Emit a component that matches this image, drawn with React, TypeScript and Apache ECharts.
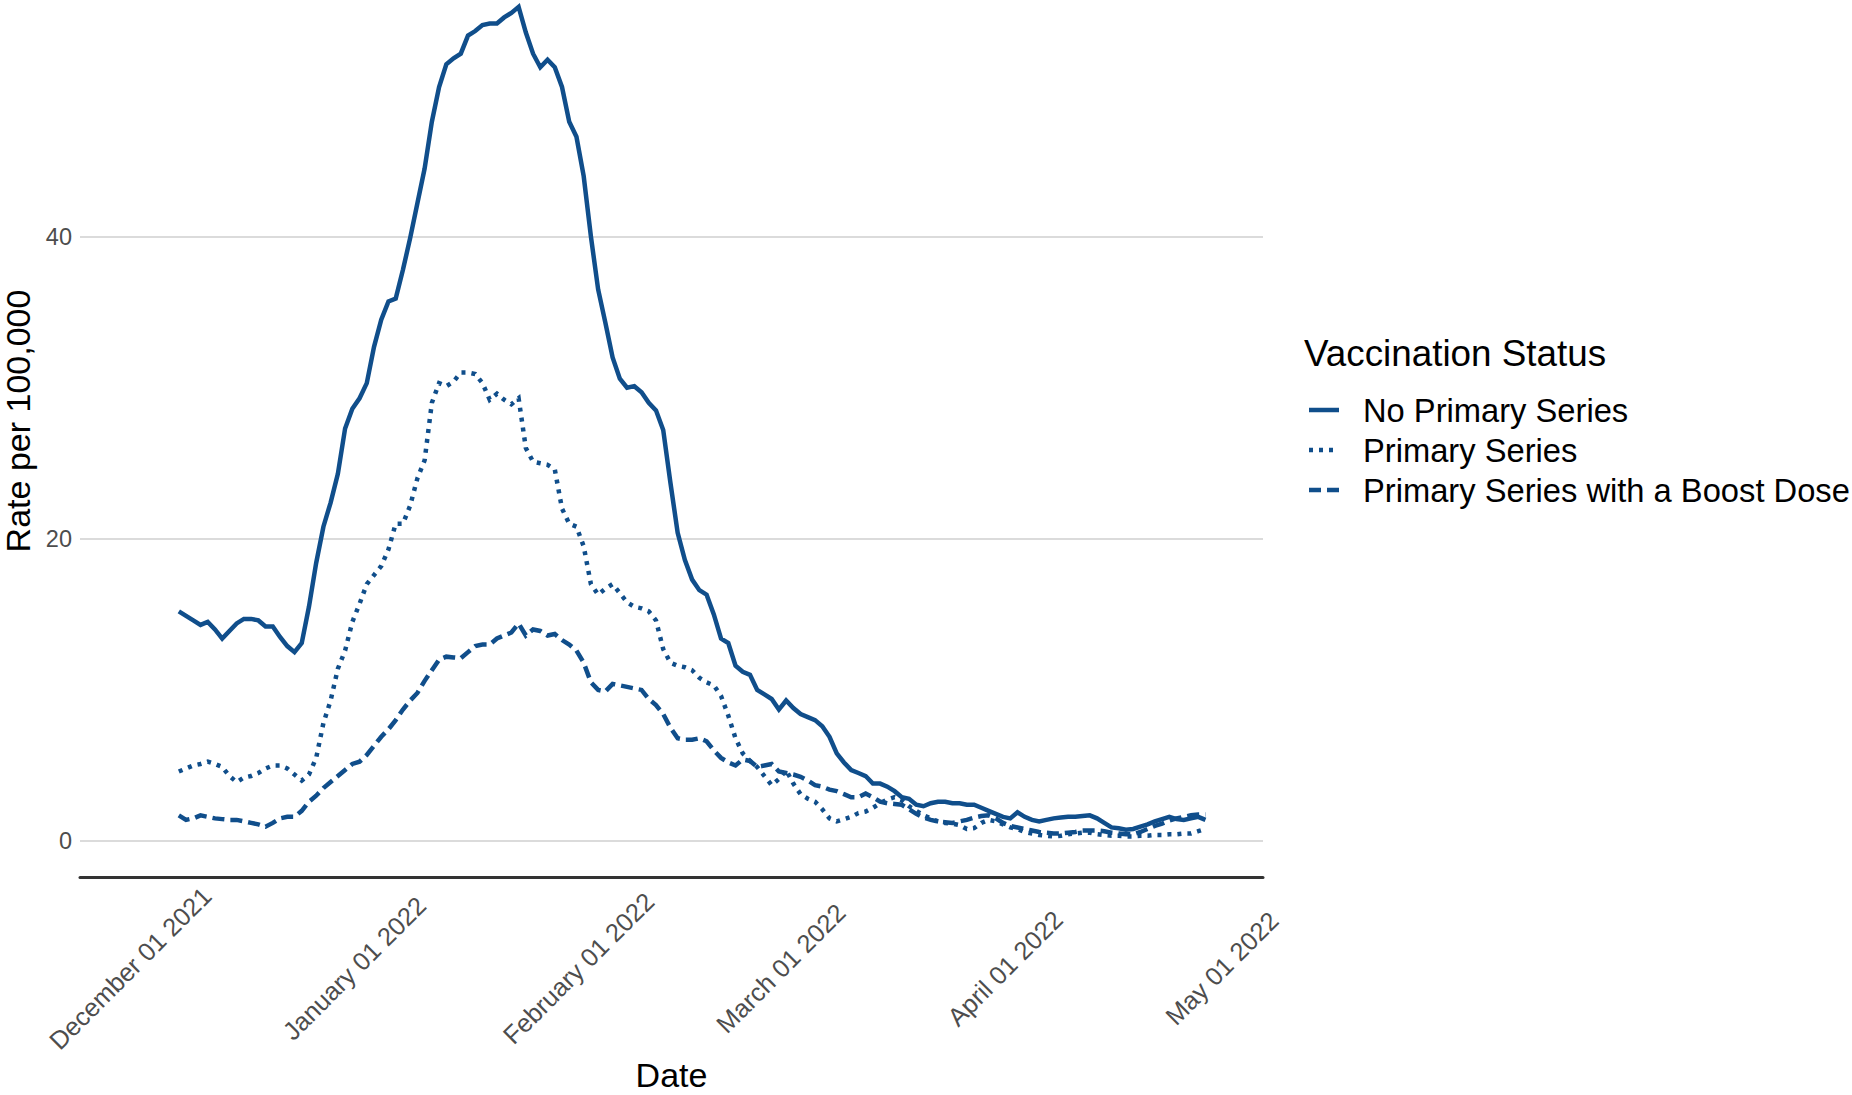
import React, { useEffect, useRef } from "react";
import * as echarts from "echarts";

// ---- data (one value per day, first day below) ----
const firstDate = "2021-12-09";

const noPrimarySeries = [
  15.2, 14.9, 14.6, 14.3, 14.5, 14.0, 13.4, 13.9, 14.4, 14.7, 14.7, 14.6, 14.2, 14.2, 13.5, 12.9, 12.5,
  13.1, 15.5, 18.4, 20.8, 22.4, 24.3, 27.3, 28.6, 29.3, 30.3, 32.7, 34.5, 35.7, 35.9, 37.8, 39.9, 42.2,
  44.5, 47.6, 49.9, 51.4, 51.8, 52.1, 53.3, 53.6, 54.0, 54.1, 54.1, 54.5, 54.8, 55.2, 53.5, 52.1, 51.2,
  51.7, 51.2, 49.9, 47.6, 46.6, 44.0, 40.0, 36.5, 34.3, 32.0, 30.6, 30.0, 30.1, 29.7, 29.0, 28.5, 27.2,
  23.7, 20.4, 18.6, 17.3, 16.6, 16.3, 15.0, 13.4, 13.1, 11.6, 11.2, 11.0, 10.0, 9.7, 9.4, 8.7, 9.3, 8.8,
  8.4, 8.2, 8.0, 7.6, 6.9, 5.8, 5.2, 4.7, 4.5, 4.3, 3.8, 3.8, 3.6, 3.3, 2.9, 2.8, 2.4, 2.3, 2.5, 2.6,
  2.6, 2.5, 2.5, 2.4, 2.4, 2.2, 2.0, 1.8, 1.6, 1.5, 1.9, 1.6, 1.4, 1.3, 1.4, 1.5, 1.55, 1.6, 1.6, 1.65,
  1.7, 1.5, 1.2, 0.9, 0.85, 0.75, 0.8, 0.95, 1.1, 1.3, 1.45, 1.6, 1.45, 1.4, 1.5, 1.6, 1.4,
];

const primarySeries = [
  4.6, 4.8, 5.0, 5.1, 5.25, 5.1, 4.9, 4.3, 3.9, 4.2, 4.3, 4.5, 4.8, 5.0, 5.0, 4.8, 4.4, 4.0, 4.4, 5.5,
  7.8, 9.3, 11.4, 12.6, 14.5, 15.7, 17.0, 17.6, 18.2, 19.3, 21.0, 21.0, 22.2, 24.0, 25.2, 29.0, 30.3,
  30.1, 30.4, 31.0, 31.0, 30.9, 30.3, 29.2, 29.6, 29.2, 28.9, 29.3, 26.0, 25.1, 25.0, 24.9, 24.6, 22.0,
  21.0, 20.8, 19.5, 17.0, 16.3, 16.7, 17.0, 16.4, 15.8, 15.5, 15.4, 15.2, 14.6, 12.7, 11.8, 11.6, 11.5,
  11.3, 10.8, 10.5, 10.3, 9.6, 8.3, 6.8, 5.8, 5.3, 4.9, 4.3, 3.7, 4.1, 4.7, 3.8, 3.1, 2.8, 2.6, 2.1,
  1.5, 1.3, 1.45, 1.6, 1.85, 1.95, 2.2, 2.5, 2.75, 2.9, 2.7, 2.3, 2.0, 1.7, 1.5, 1.3, 1.2, 1.15, 1.05,
  0.8, 0.85, 1.2, 1.4, 1.3, 1.1, 0.9, 0.8, 0.6, 0.5, 0.4, 0.35, 0.3, 0.35, 0.45, 0.5, 0.55, 0.55, 0.45,
  0.4, 0.35, 0.35, 0.3, 0.3, 0.35, 0.35, 0.4, 0.4, 0.45, 0.45, 0.5, 0.5, 0.65, 0.8,
];

const boostSeries = [
  1.7, 1.4, 1.5, 1.7, 1.6, 1.5, 1.45, 1.4, 1.4, 1.3, 1.2, 1.1, 0.95, 1.2, 1.5, 1.6, 1.6, 2.0, 2.6, 3.0,
  3.5, 3.9, 4.3, 4.7, 5.1, 5.25, 5.7, 6.3, 6.9, 7.4, 8.0, 8.7, 9.3, 9.8, 10.6, 11.3, 12.0, 12.2, 12.15,
  12.1, 12.5, 12.9, 13.0, 13.0, 13.4, 13.6, 13.8, 14.4, 13.6, 14.0, 13.9, 13.6, 13.7, 13.3, 13.0, 12.6,
  11.8, 10.5, 10.0, 9.9, 10.4, 10.3, 10.2, 10.1, 10.0, 9.4, 9.0, 8.4, 7.5, 6.8, 6.7, 6.7, 6.8, 6.6, 6.0,
  5.5, 5.2, 5.0, 5.4, 5.3, 4.9, 5.0, 5.1, 4.6, 4.5, 4.4, 4.25, 4.0, 3.7, 3.6, 3.4, 3.3, 3.1, 2.9, 2.9,
  3.15, 2.9, 2.6, 2.5, 2.45, 2.4, 2.1, 1.8, 1.55, 1.4, 1.3, 1.25, 1.2, 1.3, 1.4, 1.55, 1.65, 1.7, 1.5,
  1.2, 1.0, 0.9, 0.8, 0.7, 0.6, 0.55, 0.5, 0.5, 0.55, 0.6, 0.7, 0.7, 0.7, 0.65, 0.55, 0.5, 0.45, 0.45,
  0.6, 0.8, 1.0, 1.15, 1.35, 1.5, 1.6, 1.7, 1.75, 1.75,
];

const seriesNames = ["No Primary Series", "Primary Series", "Primary Series with a Boost Dose"];
const legendTitle = "Vaccination Status";

const xTickDates = ["2021-12-01", "2022-01-01", "2022-02-01", "2022-03-01", "2022-04-01", "2022-05-01"];
const xTickLabels = [
  "December 01 2021",
  "January 01 2022",
  "February 01 2022",
  "March 01 2022",
  "April 01 2022",
  "May 01 2022",
];
const yTicks = [0, 20, 40];

// ---- helpers / styling ----
const DAY = 86400000;
const HOUR = 3600000;
const utc = (s: string) => Date.parse(s + "T00:00:00Z");
const FONT = '"Liberation Sans", Arial, sans-serif';
const LINE_COLOR = "#104E8B";
const LINE_WIDTH = 4.5;
const DASHES: any[] = ["solid", [4, 6], [12, 6]];

const seriesValues = [noPrimarySeries, primarySeries, boostSeries];

export default function App() {
  const ref = useRef<HTMLDivElement>(null);

  useEffect(() => {
    if (!ref.current) return;
    const chart = echarts.init(ref.current, undefined, { renderer: "svg" });

    const start = utc(firstDate);
    const tickTimes = xTickDates.map(utc);

    const series = seriesValues.map((vals, k) => ({
      name: seriesNames[k],
      type: "line",
      data: vals.map((v, i) => [start + i * DAY, v]),
      showSymbol: false,
      symbol: "none",
      clip: true,
      z: 3,
      lineStyle: { color: LINE_COLOR, width: LINE_WIDTH, type: DASHES[k], cap: "butt", join: "miter" },
      itemStyle: { color: LINE_COLOR },
      emphasis: { disabled: true },
    }));

    const legendY = [410, 450, 490];
    const graphic: any[] = [
      {
        type: "text",
        x: 1304,
        y: 353,
        style: {
          text: legendTitle,
          fontSize: 36.8,
          fontFamily: FONT,
          fill: "#000000",
          align: "left",
          verticalAlign: "middle",
        },
      },
    ];
    seriesNames.forEach((name, k) => {
      graphic.push({
        type: "line",
        shape: { x1: 1309, y1: legendY[k], x2: 1339, y2: legendY[k] },
        style: {
          stroke: LINE_COLOR,
          lineWidth: LINE_WIDTH,
          lineDash: k === 0 ? null : DASHES[k],
          lineCap: "butt",
        },
      });
      graphic.push({
        type: "text",
        x: 1363,
        y: legendY[k],
        style: {
          text: name,
          fontSize: 32.7,
          fontFamily: FONT,
          fill: "#000000",
          align: "left",
          verticalAlign: "middle",
        },
      });
    });

    const option: any = {
      animation: false,
      backgroundColor: "#ffffff",
      textStyle: { fontFamily: FONT },
      grid: {
        left: 80,
        right: 589,
        top: -35,
        bottom: 218,
        containLabel: false,
        outerBoundsMode: "none",
      },
      xAxis: {
        type: "value",
        min: utc("2021-11-25") + 8 * HOUR,
        max: utc("2022-05-07") + 23 * HOUR,
        name: "Date",
        nameLocation: "middle",
        nameGap: 181,
        nameMoveOverlap: false,
        nameTextStyle: { fontSize: 34, color: "#000000", fontFamily: FONT },
        axisLine: { show: true, onZero: false, lineStyle: { color: "#333333", width: 3 } },
        axisTick: { show: false, customValues: tickTimes },
        splitLine: { show: false },
        axisLabel: {
          customValues: tickTimes,
          formatter: (v: number) => {
            const idx = tickTimes.findIndex((t) => Math.abs(t - v) < DAY / 2);
            return idx >= 0 ? xTickLabels[idx] : "";
          },
          rotate: 45,
          align: "center",
          verticalAlign: "top",
          margin: 82,
          fontSize: 25.5,
          color: "#4d4d4d",
          fontFamily: FONT,
          hideOverlap: false,
        },
      },
      yAxis: {
        type: "value",
        min: -2.38,
        max: 57.97,
        name: "Rate per 100,000",
        nameLocation: "middle",
        nameGap: 44,
        nameRotate: 90,
        nameTextStyle: { fontSize: 34, color: "#000000", fontFamily: FONT },
        axisLine: { show: false },
        axisTick: { show: false, customValues: yTicks },
        axisLabel: {
          customValues: yTicks,
          fontSize: 23.5,
          color: "#4d4d4d",
          margin: 8,
          fontFamily: FONT,
        },
        splitLine: { show: true, lineStyle: { color: "#cfcfcf", width: 1.5 } },
      },
      series,
      graphic,
    };

    chart.setOption(option);
    return () => chart.dispose();
  }, []);

  return (
    <div
      ref={ref}
      style={{ position: "absolute", left: 0, top: 0, width: 1852, height: 1095, background: "#fff" }}
    />
  );
}
